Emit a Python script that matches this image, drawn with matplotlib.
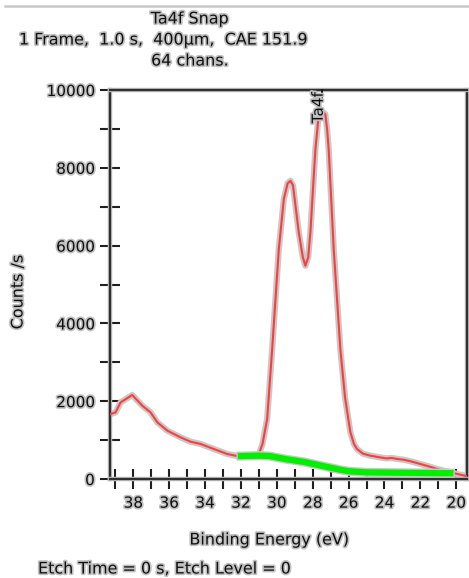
import matplotlib
matplotlib.use("Agg")
import matplotlib.pyplot as plt
import matplotlib.patheffects as pe
from matplotlib.ticker import MultipleLocator, FixedLocator

# ---- data ----
spec_be = [39.26, 38.99, 38.71, 38.06, 37.5, 37.04, 36.66, 36.1, 35.37, 34.81,
           34.25, 33.51, 32.77, 32.12, 31.5, 31.0, 30.8, 30.54, 30.26, 29.89,
           29.61, 29.4, 29.24, 29.1, 28.78, 28.55, 28.41, 28.25, 28.13, 27.85,
           27.7, 27.5, 27.3, 27.2, 27.11, 26.83, 26.46, 26.2, 25.9, 25.7,
           25.53, 25.2, 24.79, 24.3, 23.9, 23.6, 23.2, 22.93, 22.5, 22.0,
           21.5, 21.07, 20.33, 19.39]
spec_counts = [1670, 1713, 1970, 2159, 1884, 1713, 1456, 1242, 1071, 959,
               900, 771, 643, 583, 600, 640, 900, 1542, 3341, 5911,
               7196, 7600, 7667, 7550, 6348, 5700, 5483, 5700, 6348, 8480,
               9200, 9450, 9380, 9000, 8480, 5911, 3341, 2100, 1200, 900,
               771, 650, 600, 560, 530, 540, 510, 496, 450, 386,
               320, 257, 171, 70]

bg_be = [32.0, 31.0, 30.4, 29.5, 28.5, 27.5, 26.5, 26.0, 25.0, 23.0, 21.0, 20.33]
bg_counts = [590, 600, 590, 510, 440, 340, 240, 200, 170, 160, 150, 150]

peak_name = "Ta4f"
peak_be = 27.46

title_lines = ["Ta4f Snap", "1 Frame,  1.0 s,  400\u00b5m,  CAE 151.9", "64 chans."]
x_label = "Binding Energy (eV)"
y_label = "Counts /s"
footer = "Etch Time = 0 s, Etch Level = 0"

y_major = [0, 2000, 4000, 6000, 8000, 10000]
x_major = [38, 36, 34, 32, 30, 28, 26, 24, 22, 20]

# ---- figure ----
W, H = 469, 578
fig = plt.figure(figsize=(W / 100, H / 100), dpi=100)
plt.rcParams['font.family'] = ['DejaVu Sans']

halo = [pe.withStroke(linewidth=2.4, foreground='#c0c0c0')]
FS = 11.5
TFS = 11

def px(x, y):
    return x / W, 1 - y / H

ax_l, ax_r, ax_t, ax_b = 110, 467, 90, 479
ax = fig.add_axes([ax_l / W, 1 - ax_b / H, (ax_r - ax_l) / W, (ax_b - ax_t) / H])

ax.plot(spec_be, spec_counts, color='#c8c8c8', lw=4.5, solid_joinstyle='round', zorder=2)
ax.plot(spec_be, spec_counts, color='#ff3c3c', lw=1.5, solid_joinstyle='round', zorder=3)
ax.plot(bg_be, bg_counts, color='#c8c8c8', lw=6.5, zorder=4)
ax.plot(bg_be, bg_counts, color='#00f000', lw=4.5, zorder=5)

ax.set_xlim(39.3, 19.4)
ax.set_ylim(0, 10000)

ax.xaxis.set_major_locator(FixedLocator(x_major))
ax.xaxis.set_minor_locator(MultipleLocator(1))
ax.yaxis.set_major_locator(FixedLocator(y_major))
ax.yaxis.set_minor_locator(MultipleLocator(1000))

ax.tick_params(axis='both', which='both', direction='inout', length=14, width=1.5,
               color='#202020', labelsize=TFS, labelcolor='#111111')
ax.tick_params(axis='x', pad=5)
ax.tick_params(axis='y', pad=4)
for lab in ax.get_xticklabels() + ax.get_yticklabels():
    lab.set_path_effects(halo)

for s in ax.spines.values():
    s.set_color('#303030')
    s.set_linewidth(1.6)
    s.set_path_effects([pe.withStroke(linewidth=3.2, foreground='#bdbdbd')])

# peak marker
ax.plot([peak_be, peak_be], [10000, 9780], color='#111111', lw=1.3, zorder=6, clip_on=False)
ax.annotate(peak_name, xy=(peak_be, 10000), xytext=(-3, -1.5), textcoords='offset points',
            rotation=90, ha='center', va='top', fontsize=TFS, color='#111111',
            path_effects=halo, zorder=7)

# titles and labels
fig.text(*px(190, 19), title_lines[0], ha='center', va='center', fontsize=FS,
         color='#111111', path_effects=halo)
fig.text(*px(164, 40), title_lines[1], ha='center', va='center', fontsize=FS,
         color='#111111', path_effects=halo)
fig.text(*px(190, 61), title_lines[2], ha='center', va='center', fontsize=FS,
         color='#111111', path_effects=halo)
fig.text(*px(270, 540), x_label, ha='center', va='center', fontsize=FS,
         color='#111111', path_effects=halo)
fig.text(*px(18, 292), y_label, ha='center', va='center', rotation=90, fontsize=FS,
         color='#111111', path_effects=halo)
fig.text(*px(38, 569), footer, ha='left', va='center', fontsize=FS,
         color='#111111', path_effects=halo)

# top separator line
fig.add_artist(plt.Line2D([5 / W, 1.0], [1 - 6 / H, 1 - 6 / H], color='#c8c8c8', lw=1.8))

fig.savefig("out.png", dpi=100)
